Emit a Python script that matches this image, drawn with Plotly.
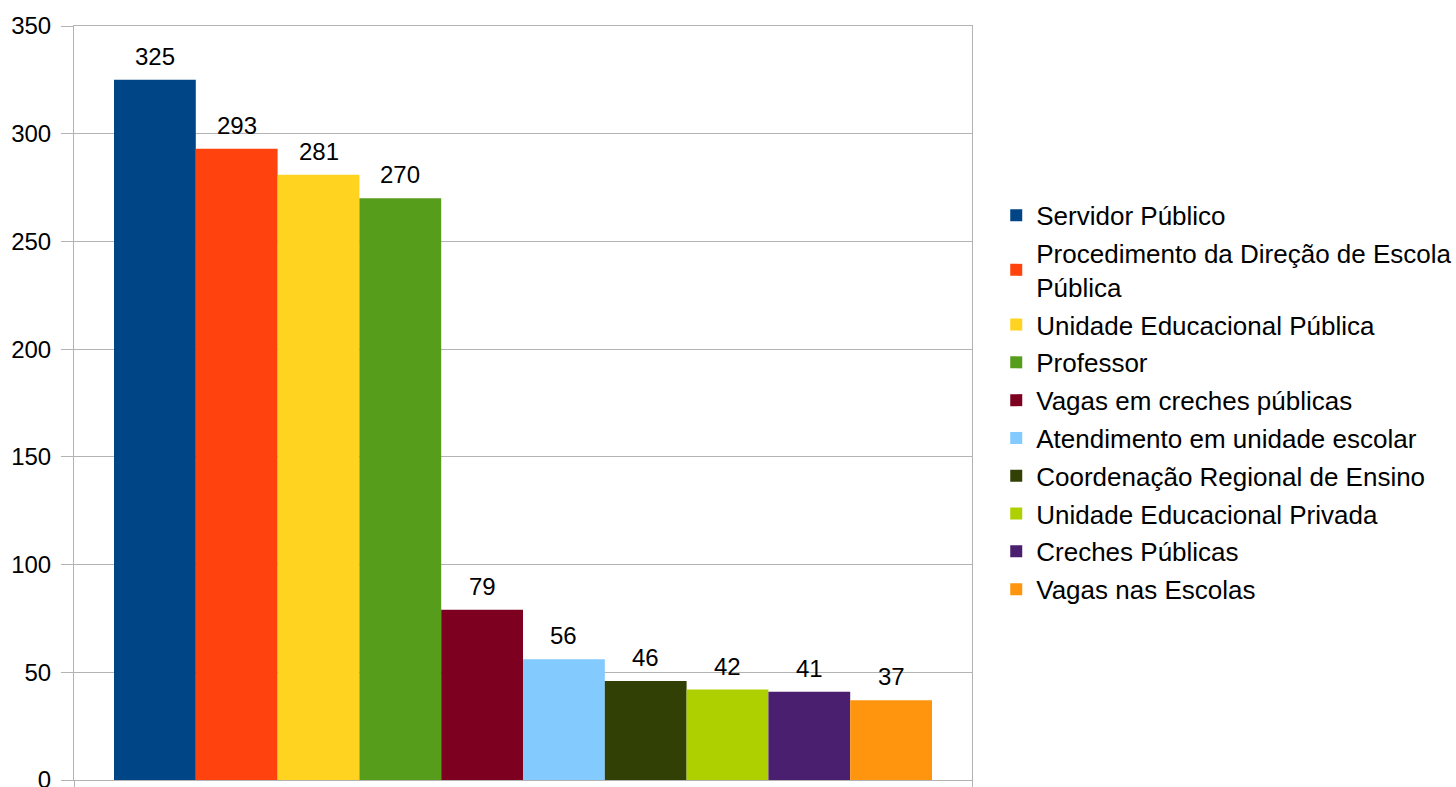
import plotly.graph_objects as go

categorias = [
    "Servidor Público",
    "Procedimento da Direção de Escola<br>Pública",
    "Unidade Educacional Pública",
    "Professor",
    "Vagas em creches públicas",
    "Atendimento em unidade escolar",
    "Coordenação Regional de Ensino",
    "Unidade Educacional Privada",
    "Creches Públicas",
    "Vagas nas Escolas",
]
valores = [325, 293, 281, 270, 79, 56, 46, 42, 41, 37]
cores = ["#004586", "#ff420e", "#ffd320", "#579d1c", "#7e0021",
         "#83caff", "#314004", "#aecf00", "#4b1f6f", "#ff950e"]

FONT = "Liberation Sans, Arial, sans-serif"
GRID = "#b3b3b3"

fig = go.Figure()
for i, (nome, v, c) in enumerate(zip(categorias, valores, cores)):
    fig.add_trace(go.Bar(
        x=[i], y=[v], width=1.0, name=nome,
        marker=dict(color=c, line=dict(width=0)),
        legendgroup=f"g{i}",
        hoverinfo="name+y",
    ))
    fig.add_annotation(
        x=i, y=v, text=str(v), showarrow=False,
        yanchor="bottom", yshift=8,
        font=dict(family=FONT, size=24, color="#000000"),
    )

x0, x1 = -0.989, 9.989
fig.update_layout(
    width=1456, height=787,
    margin=dict(l=74, r=484, t=26, b=7, autoexpand=False),
    paper_bgcolor="white", plot_bgcolor="white",
    barmode="overlay",
    font=dict(family=FONT, size=24, color="#000000"),
    showlegend=True,
    legend=dict(
        x=1.027, xanchor="left", y=0.501, yanchor="middle",
        font=dict(family=FONT, size=26, color="#000000"),
        tracegroupgap=1,
        bgcolor="rgba(0,0,0,0)",
    ),
    xaxis=dict(
        range=[x0, x1], showgrid=False, zeroline=False, automargin=False,
        showline=True, linecolor=GRID, linewidth=1, mirror=True,
        tickmode="array", tickvals=[x0, x1], ticktext=["", ""],
        ticks="outside", ticklen=8, tickcolor=GRID, showticklabels=False,
    ),
    yaxis=dict(
        range=[0, 350], dtick=50, showgrid=True, gridcolor=GRID, gridwidth=1,
        zeroline=False, showline=True, linecolor=GRID, linewidth=1, mirror=True,
        automargin=False, ticklabeloverflow="allow",
        ticks="outside", ticklen=12, tickcolor=GRID, ticklabelstandoff=5,
        tickfont=dict(family=FONT, size=24, color="#000000"),
    ),
)

fig.write_html("out.html")
